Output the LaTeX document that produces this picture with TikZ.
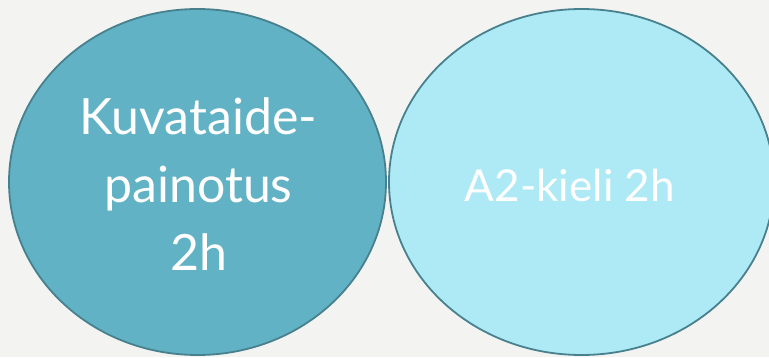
\documentclass[tikz,border=0pt]{standalone}
\usepackage{fontspec}
\setmainfont{Lato}
\usetikzlibrary{shapes.geometric}
\definecolor{bg}{HTML}{F3F3F2}
\definecolor{leftfill}{HTML}{62B2C6}
\definecolor{rightfill}{HTML}{AEEAF5}
\definecolor{edge}{HTML}{47818E}
\tikzset{
  bubble/.style={ellipse, draw=edge, line width=1.8pt, inner sep=0pt,
    text=white, align=center},
}
\begin{document}
\begin{tikzpicture}[x=1pt,y=1pt]
\useasboundingbox (0,0) rectangle (769,357);
\clip (0,0) rectangle (769,357);
\fill[bg] (0,0) rectangle (769,357);
\node[bubble, fill=leftfill, minimum width=377pt, minimum height=346pt] (kuva) at (197.5,175) {};
\node[text=white, align=center, inner sep=0pt,
  font=\fontsize{50}{68}\selectfont] (kuvatxt) at (198.5,173)
  {Kuvataide-\\painotus\\2h};
\node[bubble, fill=rightfill, minimum width=385pt, minimum height=346pt] (kieli) at (581.5,175) {};
\node[text=white, font=\fontsize{44}{56}\selectfont, inner sep=0pt] (kielitxt) at (570,172) {A2-kieli 2h};
\end{tikzpicture}
\end{document}
